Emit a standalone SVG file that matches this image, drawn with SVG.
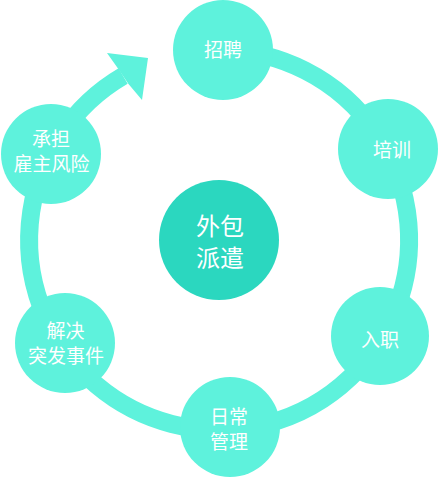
<svg xmlns="http://www.w3.org/2000/svg" width="439" height="477" viewBox="0 0 439 477">
<style>
.ring{fill:none;stroke:#5ef2dc;stroke-width:18}
.head{fill:#5ef2dc}
.node{fill:#5ef2dc}
.hub{fill:#2bd7bf}
text{font-family:"Noto Sans CJK SC","Noto Sans",sans-serif;fill:#fff;text-anchor:middle;font-size:19px}
.big{font-size:24px}
</style>
<rect width="439" height="477" fill="#fff"/>
<g id="connectors">
<path class="ring" d="M 223 50 A 190 190 0 1 1 123.1 76"/>
<polygon class="head" points="107,53 148,58 142,100 128.5,84 118,68.5"/>
</g>
<g id="hub"><circle class="hub" cx="219" cy="240" r="60"/><text class="big" x="220" y="235">外包</text><text class="big" x="220" y="267">派遣</text></g>
<g id="recruit"><circle class="node" cx="223" cy="50" r="50"/><text x="223" y="57">招聘</text></g>
<g id="train"><circle class="node" cx="388" cy="149" r="50"/><text x="392" y="157">培训</text></g>
<g id="onboard"><circle class="node" cx="380" cy="336" r="49"/><text x="380" y="347">入职</text></g>
<g id="manage"><circle class="node" cx="230" cy="427" r="50"/><text x="229" y="424">日常</text><text x="229" y="449">管理</text></g>
<g id="incident"><circle class="node" cx="65" cy="343" r="50"/><text x="65.5" y="338">解决</text><text x="66" y="363">突发事件</text></g>
<g id="risk"><circle class="node" cx="51" cy="154" r="50"/><text x="51" y="146">承担</text><text x="51.5" y="171">雇主风险</text></g>
</svg>
